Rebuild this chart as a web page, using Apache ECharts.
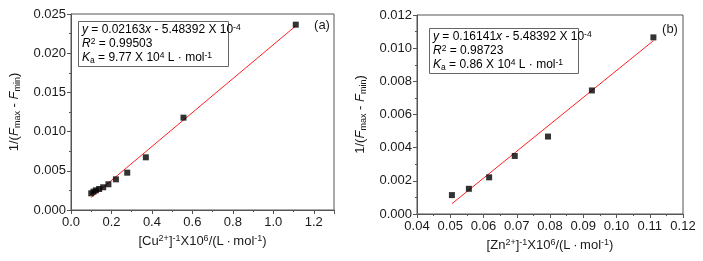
<!DOCTYPE html>
<html>
<head>
<meta charset="utf-8">
<script src="https://cdn.jsdelivr.net/npm/echarts@6/dist/echarts.min.js"></script>
<style>
  html, body { margin: 0; padding: 0; background: #fff; }
  #main { width: 703px; height: 261px; }
</style>
</head>
<body>
<div id="main"></div>
<script>
// (a) Cu2+ points
var cuX = [0.100, 0.111, 0.123, 0.139, 0.159, 0.185, 0.222, 0.278, 0.370, 0.556, 1.111];
var cuY = [0.00213, 0.00234, 0.00251, 0.00268, 0.00290, 0.00328, 0.00391, 0.00476, 0.00672, 0.01178, 0.02364];
var cuFitX = [0.100, 1.111];
var cuFitY = [0.00161, 0.02348];
// (b) Zn2+ points
var znX = [0.0505, 0.0556, 0.0617, 0.0694, 0.0794, 0.0926, 0.1111];
var znY = [0.00114, 0.00152, 0.00221, 0.00350, 0.00467, 0.00745, 0.01065];
var znFitX = [0.0505, 0.1111];
var znFitY = [0.00062, 0.01045];

function pairs(xs, ys) {
  var out = [];
  for (var i = 0; i < xs.length; i++) out.push([xs[i], ys[i]]);
  return out;
}

var FONT = "Liberation Sans";
var AXC = "#555";
var TXT = "#1a1a1a";

var rich = {
  i: { fontStyle: "italic", fontFamily: FONT, fontSize: 13, lineHeight: 16, color: TXT },
  sup: { fontSize: 9, lineHeight: 7, verticalAlign: "top", fontFamily: FONT, color: TXT },
  sub: { fontSize: 9, lineHeight: 7, verticalAlign: "bottom", fontFamily: FONT, color: TXT },
  n: { fontSize: 13, lineHeight: 16, fontFamily: FONT, color: TXT }
};
var richSmall = {
  i: { fontStyle: "italic", fontFamily: FONT, fontSize: 12, lineHeight: 14, color: TXT },
  sup: { fontSize: 8.5, lineHeight: 5, verticalAlign: "top", fontFamily: FONT, color: TXT },
  sub: { fontSize: 8.5, lineHeight: 6, verticalAlign: "bottom", fontFamily: FONT, color: TXT },
  n: { fontSize: 12, lineHeight: 14, fontFamily: FONT, color: TXT }
};

function xAxisCfg(idx, min, max, interval, digits, name) {
  var steps = (max - min) / interval;
  return {
    type: "value", gridIndex: idx, min: min, max: max, interval: interval,
    name: name, nameLocation: "middle", nameGap: 22,
    nameTextStyle: { fontFamily: FONT, fontSize: 13, color: TXT, rich: rich },
    axisLine: { show: true, lineStyle: { color: AXC, width: 1 } },
    axisTick: { show: true, inside: false, length: 4, lineStyle: { color: AXC } },
    minorTick: { show: true, splitNumber: 2, length: 2, lineStyle: { color: AXC } },
    splitLine: { show: false },
    axisLabel: { showMaxLabel: Math.abs(steps - Math.round(steps)) < 1e-6,
      margin: 6, fontFamily: FONT, fontSize: 13, color: TXT,
      formatter: function (v) { return v.toFixed(digits); } }
  };
}
function yAxisCfg(idx, max, interval, name) {
  return {
    type: "value", gridIndex: idx, min: 0, max: max, interval: interval,
    name: name, nameLocation: "middle", nameRotate: 90, nameGap: 49,
    nameTextStyle: { fontFamily: FONT, fontSize: 13, color: TXT, rich: rich },
    axisLine: { show: true, lineStyle: { color: AXC, width: 1 } },
    axisTick: { show: true, inside: false, length: 4, lineStyle: { color: AXC } },
    minorTick: { show: true, splitNumber: 2, length: 2, lineStyle: { color: AXC } },
    splitLine: { show: false },
    axisLabel: { margin: 5, fontFamily: FONT, fontSize: 13, color: TXT,
      formatter: function (v) { return v.toFixed(3); } }
  };
}

var yName = "{n|1/(}{i|F}{sub|max}{n| - }{i|F}{sub|min}{n|)}";

var myChart = echarts.init(document.getElementById("main"));
myChart.setOption({
  animation: false,
  backgroundColor: "#fff",
  grid: [
    { left: 71, top: 14, width: 263, height: 196, show: true, borderColor: AXC, borderWidth: 1 },
    { left: 417, top: 15, width: 266, height: 199, show: true, borderColor: AXC, borderWidth: 1 }
  ],
  xAxis: [
    xAxisCfg(0, 0, 1.3, 0.2, 1, "{n|[Cu}{sup|2+}{n|]}{sup|-1}{n|X10}{sup|6}{n|/(L\u2009·\u2009mol}{sup|-1}{n|)}"),
    xAxisCfg(1, 0.04, 0.12, 0.01, 2, "{n|[Zn}{sup|2+}{n|]}{sup|-1}{n|X10}{sup|6}{n|/(L\u2009·\u2009mol}{sup|-1}{n|)}")
  ],
  yAxis: [
    yAxisCfg(0, 0.025, 0.005, yName),
    yAxisCfg(1, 0.012, 0.002, yName)
  ],
  graphic: [
    { type: "rect", shape: { x: 78.5, y: 21.5, width: 150, height: 45 },
      style: { fill: "#fff", stroke: "#666", lineWidth: 1 }, z: 10 },
    { type: "text", x: 82, y: 23, z: 11,
      style: { rich: richSmall, lineHeight: 14,
        text: "{i|y}{n| = 0.02163}{i|x}{n| - 5.48392 X 10}{sup|-4}\n{i|R}{sup|2}{n| = 0.99503}\n{i|K}{sub|a}{n| = 9.77 X 10}{sup|4}{n| L · mol}{sup|-1}" } },
    { type: "text", x: 322, y: 25, z: 11,
      style: { text: "(a)", font: "13px " + FONT, fill: TXT, align: "center", verticalAlign: "middle" } },
    { type: "rect", shape: { x: 429.5, y: 28.5, width: 149, height: 45 },
      style: { fill: "#fff", stroke: "#666", lineWidth: 1 }, z: 10 },
    { type: "text", x: 433, y: 30, z: 11,
      style: { rich: richSmall, lineHeight: 14,
        text: "{i|y}{n| = 0.16141}{i|x}{n| - 5.48392 X 10}{sup|-4}\n{i|R}{sup|2}{n| = 0.98723}\n{i|K}{sub|a}{n| = 0.86 X 10}{sup|4}{n| L · mol}{sup|-1}" } },
    { type: "text", x: 670, y: 29, z: 11,
      style: { text: "(b)", font: "13px " + FONT, fill: TXT, align: "center", verticalAlign: "middle" } }
  ],
  series: [
    { type: "line", xAxisIndex: 0, yAxisIndex: 0, data: pairs(cuFitX, cuFitY),
      symbol: "none", lineStyle: { color: "#ff2020", width: 1 }, z: 2 },
    { type: "scatter", xAxisIndex: 0, yAxisIndex: 0, data: pairs(cuX, cuY),
      symbol: "rect", symbolSize: 6, itemStyle: { color: "#000" }, z: 3 },
    { type: "line", xAxisIndex: 1, yAxisIndex: 1, data: pairs(znFitX, znFitY),
      symbol: "none", lineStyle: { color: "#ff2020", width: 1 }, z: 2 },
    { type: "scatter", xAxisIndex: 1, yAxisIndex: 1, data: pairs(znX, znY),
      symbol: "rect", symbolSize: 6, itemStyle: { color: "#000" }, z: 3 }
  ]
});
</script>
</body>
</html>
